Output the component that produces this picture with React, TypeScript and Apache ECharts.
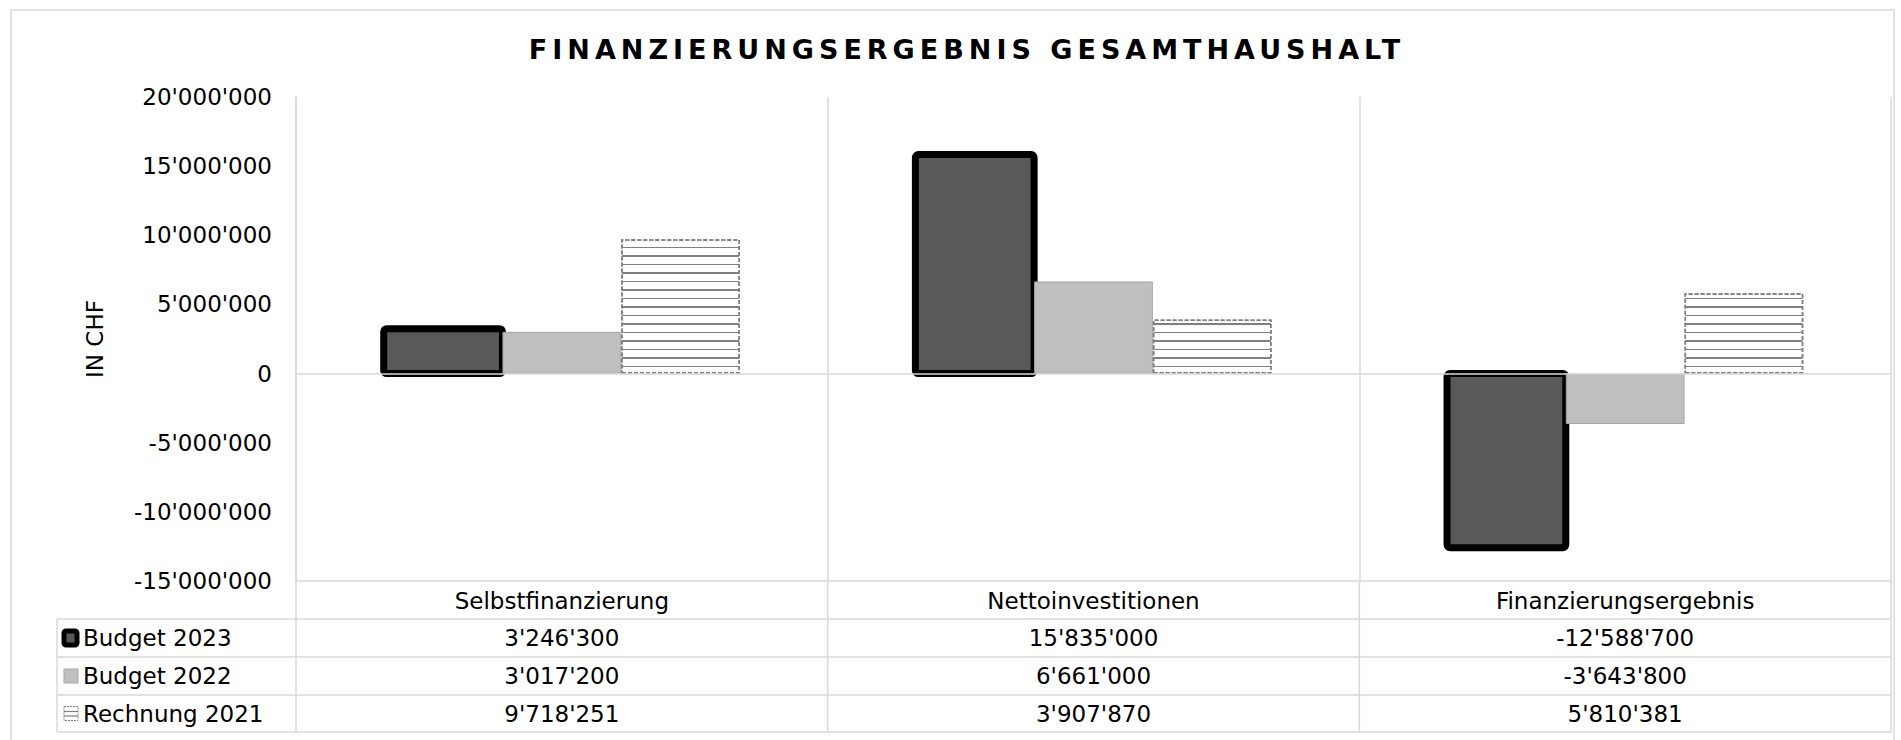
import React, { useEffect, useRef } from "react";
import * as echarts from "echarts";

const title = "FINANZIERUNGSERGEBNIS GESAMTHAUSHALT";
const yAxisName = "IN CHF";
const categories = ["Selbstfinanzierung", "Nettoinvestitionen", "Finanzierungsergebnis"];
const seriesNames = ["Budget 2023", "Budget 2022", "Rechnung 2021"];
const budget2023 = [3246300, 15835000, -12588700];
const budget2022 = [3017200, 6661000, -3643800];
const rechnung2021 = [9718251, 3907870, 5810381];
const yMin = -15000000;
const yMax = 20000000;
const yInterval = 5000000;

const FONT = '"DejaVu Sans", Verdana, sans-serif';
const GRID = "#d9d9d9";
const CAT_GAP = 0.33;

function fmt(v: number): string {
  const s = Math.abs(Math.round(v))
    .toString()
    .replace(/\B(?=(\d{3})+(?!\d))/g, "'");
  return (v < 0 ? "-" : "") + s;
}

export default function App() {
  const ref = useRef<HTMLDivElement>(null);

  useEffect(() => {
    if (!ref.current) return;
    const chart = echarts.init(ref.current, undefined, { renderer: "svg" });

    const W = 1901;
    const H = 740;
    const gL = 296;
    const gR = 1891;
    const gT = 97;
    const gB = 581;
    const rows = [581, 619, 657, 695, 732];
    const tableLeft = 57;
    const colW = (gR - gL) / categories.length;

    const allSeries = [budget2023, budget2022, rechnung2021];

    const graphics: any[] = [];
    graphics.push({
      type: "rect",
      shape: { x: 11, y: 10, width: 1883, height: 745 },
      style: { fill: "none", stroke: GRID, lineWidth: 1.5 },
      silent: true,
      z: 0,
    });
    graphics.push({
      type: "text",
      x: 967,
      y: 49,
      style: {
        text: title,
        fontSize: 27,
        fontWeight: "bold",
        fontFamily: FONT,
        fill: "#000",
        textAlign: "center",
        textVerticalAlign: "middle",
        align: "center",
        verticalAlign: "middle",
      },
    });
    graphics.push({
      type: "text",
      x: 95,
      y: 339,
      rotation: Math.PI / 2,
      style: {
        text: yAxisName,
        fontSize: 23,
        fontFamily: FONT,
        fill: "#000",
        textAlign: "center",
        textVerticalAlign: "middle",
        align: "center",
        verticalAlign: "middle",
      },
    });
    for (let i = 1; i < rows.length; i++) {
      graphics.push({
        type: "line",
        shape: { x1: tableLeft, y1: rows[i], x2: gR, y2: rows[i] },
        style: { stroke: GRID, lineWidth: 1.5 },
        silent: true,
      });
    }
    for (let c = 0; c <= categories.length; c++) {
      const x = gL + c * colW;
      graphics.push({
        type: "line",
        shape: { x1: x, y1: gB, x2: x, y2: rows[rows.length - 1] },
        style: { stroke: GRID, lineWidth: 1.5 },
        silent: true,
      });
    }
    graphics.push({
      type: "line",
      shape: { x1: tableLeft, y1: rows[1], x2: tableLeft, y2: rows[rows.length - 1] },
      style: { stroke: GRID, lineWidth: 1.5 },
      silent: true,
    });
    for (let r = 0; r < allSeries.length; r++) {
      const yc = (rows[r + 1] + rows[r + 2]) / 2;
      graphics.push({
        type: "text",
        x: 83,
        y: yc,
        style: {
          text: seriesNames[r],
          fontSize: 23,
          fontFamily: FONT,
          fill: "#000",
          textAlign: "left",
          textVerticalAlign: "middle",
          align: "left",
          verticalAlign: "middle",
        },
      });
      for (let c = 0; c < categories.length; c++) {
        graphics.push({
          type: "text",
          x: gL + (c + 0.5) * colW,
          y: yc,
          style: {
            text: fmt(allSeries[r][c]),
            fontSize: 23,
            fontFamily: FONT,
            fill: "#000",
            textAlign: "center",
            textVerticalAlign: "middle",
            align: "center",
            verticalAlign: "middle",
          },
        });
      }
      const ky = yc - 7;
      if (r === 0) {
        graphics.push({
          type: "rect",
          shape: { x: 64, y: ky, width: 13, height: 14, r: 2 },
          style: { fill: "#595959", stroke: "#000", lineWidth: 5 },
        });
      } else if (r === 1) {
        graphics.push({
          type: "rect",
          shape: { x: 64, y: ky, width: 14, height: 14 },
          style: { fill: "#bfbfbf", stroke: "#a5a5a5", lineWidth: 1 },
        });
      } else {
        graphics.push({
          type: "rect",
          shape: { x: 64, y: ky, width: 14, height: 14 },
          style: { fill: "#fff", stroke: "#7f7f7f", lineWidth: 1, lineDash: [2, 1] },
        });
        graphics.push({
          type: "line",
          shape: { x1: 64, y1: ky + 5, x2: 78, y2: ky + 5 },
          style: { stroke: "#7f7f7f", lineWidth: 1.2 },
        });
        graphics.push({
          type: "line",
          shape: { x1: 64, y1: ky + 9.5, x2: 78, y2: ky + 9.5 },
          style: { stroke: "#7f7f7f", lineWidth: 1.2 },
        });
      }
    }

    const option: any = {
      animation: false,
      backgroundColor: "#fff",
      grid: { left: gL, right: W - gR, top: gT, bottom: H - gB, containLabel: false },
      xAxis: {
        type: "category",
        data: categories,
        axisLine: { show: true, onZero: false, lineStyle: { color: GRID, width: 1.5 } },
        axisTick: { show: false },
        splitLine: { show: true, lineStyle: { color: GRID, width: 1.5 } },
        axisLabel: { fontSize: 23, fontFamily: FONT, color: "#000", margin: 8 },
      },
      yAxis: {
        type: "value",
        min: yMin,
        max: yMax,
        interval: yInterval,
        axisLine: { show: true, lineStyle: { color: GRID, width: 1.5 } },
        axisTick: { show: false },
        splitLine: { show: false },
        axisLabel: {
          fontSize: 23,
          fontFamily: FONT,
          color: "#000",
          margin: 24,
          formatter: (v: number) => fmt(v),
        },
      },
      series: [
        {
          type: "custom",
          name: seriesNames[0] + " ",
          data: budget2023.map((v, i) => [i, v]),
          encode: { x: 0, y: 1 },
          z: 2,
          renderItem: (params: any, api: any) => {
            const cat = api.value(0);
            const val = api.value(1);
            const p0 = api.coord([cat, 0]);
            const p1 = api.coord([cat, val]);
            const cw = api.size([1, 0])[0];
            const bw = (cw * (1 - CAT_GAP)) / 3;
            return {
              type: "rect",
              shape: {
                x: p0[0] - 1.5 * bw,
                y: Math.min(p0[1], p1[1]),
                width: bw,
                height: Math.abs(p1[1] - p0[1]),
                r: 3,
              },
              style: { fill: "#595959", stroke: "#000", lineWidth: 7 },
            };
          },
        },
        {
          type: "bar",
          name: seriesNames[0],
          data: budget2023,
          barGap: "0%",
          barCategoryGap: "33%",
          itemStyle: { color: "rgba(0,0,0,0)" },
          markLine: {
            silent: true,
            symbol: ["none", "none"],
            label: { show: false },
            lineStyle: { color: GRID, width: 1.5, type: "solid" },
            data: [{ yAxis: 0 }],
          },
        },
        {
          type: "bar",
          name: seriesNames[1],
          data: budget2022,
          barGap: "0%",
          barCategoryGap: "33%",
          itemStyle: { color: "#bfbfbf", borderColor: "#a5a5a5", borderWidth: 1 },
        },
        {
          type: "bar",
          name: seriesNames[2],
          data: rechnung2021,
          barGap: "0%",
          barCategoryGap: "33%",
          itemStyle: {
            color: "#ffffff",
            borderColor: "#7f7f7f",
            borderWidth: 1.5,
            borderType: [4, 2],
            decal: {
              symbol: "rect",
              symbolSize: 1,
              dashArrayX: [1, 0],
              dashArrayY: [2, 7, 1, 7],
              color: "#7f7f7f",
              rotation: 0,
            },
          },
        },
      ],
      graphic: { elements: graphics },
    };

    chart.setOption(option);

    const texts = ref.current.querySelectorAll("text");
    texts.forEach((t) => {
      if (t.textContent === title) {
        t.setAttribute("letter-spacing", "5");
      }
    });

    return () => chart.dispose();
  }, []);

  return (
    <div
      ref={ref}
      style={{ position: "fixed", left: 0, top: 0, width: 1901, height: 740, background: "#fff" }}
    />
  );
}
